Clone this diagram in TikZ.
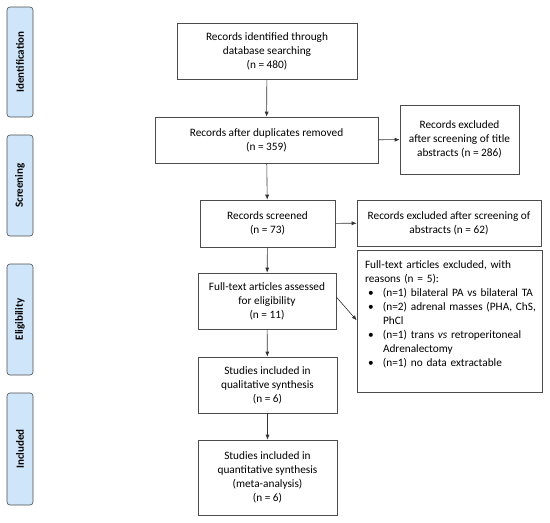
\documentclass[tikz,border=0pt]{standalone}
\usepackage{fontspec}
\setmainfont{Carlito}
\usetikzlibrary{arrows.meta}
\definecolor{phase}{HTML}{CFE6FA}
\tikzset{
  box/.style={draw=black!70, line width=0.6pt, align=center, inner sep=2pt,
    font=\fontsize{11.3}{14}\selectfont},
  phasebox/.style={draw=black!70, fill=phase, rounded corners=3pt, line width=0.6pt,
    minimum height=26pt, rotate=90, font=\bfseries\fontsize{11}{13}\selectfont},
  flow/.style={draw=black!80, line width=0.6pt, -{Latex[length=5pt,width=4pt]}}
}
\newcommand{\bul}{\makebox[15pt][l]{\textbullet}}
\begin{document}
\begin{tikzpicture}[x=1pt, y=-1pt]
    \useasboundingbox (0,0) rectangle (550,523);

    % 1. Phase labels on the left
    \node[phasebox, minimum width=110pt] (ident) at (20,62) {Identification};
    \node[phasebox, minimum width=101pt] (screen) at (20,185.5) {Screening};
    \node[phasebox, minimum width=111pt] (elig) at (20,319.5) {Eligibility};
    \node[phasebox, minimum width=112pt] (incl) at (20,449) {Included};

    % 2. Main column
    \node[box, minimum width=180pt, minimum height=56pt] (found) at (267,51)
        {Records identified through\\ database searching\\ (n = 480)};
    \node[box, minimum width=223pt, minimum height=46pt] (dupl) at (266.5,140)
        {Records after duplicates removed\\ (n = 359)};
    \node[box, minimum width=135pt, minimum height=47pt] (screened) at (267.5,223.5)
        {Records screened\\ (n = 73)};
    \node[box, minimum width=138pt, minimum height=56pt] (fulltext) at (267,301)
        {Full-text articles assessed\\ for eligibility\\ (n = 11)};
    \node[box, minimum width=139pt, minimum height=56pt] (qual) at (267.5,385)
        {Studies included in\\ qualitative synthesis\\ (n = 6)};
    \node[box, minimum width=139pt, minimum height=75pt] (quant) at (267.5,477.5)
        {Studies included in\\ quantitative synthesis\\ (meta-analysis)\\ (n = 6)};

    % 3. Exclusion boxes on the right
    \node[box, minimum width=119pt, minimum height=69pt] (excla) at (459.5,139.5)
        {Records excluded\\ after screening of title\\ abstracts (n = 286)};
    \node[box, minimum width=184pt, minimum height=46pt] (exclb) at (449,223)
        {Records excluded after screening of\\ abstracts (n = 62)};
    \node[box, minimum width=185pt, minimum height=142pt, anchor=north] (exclc) at (449.5,250) {};
    \node[box, draw=none, align=left, text width=177pt, inner sep=0pt, anchor=north west]
        (reasons) at ([xshift=8pt, yshift=-10.5pt]exclc.north west)
        {Full-text articles excluded, with\\
         reasons (n = 5):\\
         \hspace*{3pt}\bul(n=1) bilateral PA vs bilateral TA\\
         \hspace*{3pt}\bul(n=2) adrenal masses (PHA, ChS,\\
         \hspace*{18pt}PhCl\\
         \hspace*{3pt}\bul(n=1) trans \textit{vs} retroperitoneal\\
         \hspace*{18pt}Adrenalectomy\\
         \hspace*{3pt}\bul(n=1) no data extractable};

    % 4. Arrows
    \draw[flow] (found) -- (dupl);
    \draw[flow] (dupl) -- (screened);
    \draw[flow] (screened) -- (fulltext);
    \draw[flow] (fulltext) -- (qual);
    \draw[flow] (qual) -- (quant);
    \draw[flow] (dupl) -- (excla);
    \draw[flow] (screened) -- (exclb);
    \draw[flow] ([yshift=4pt]fulltext.east) -- ([yshift=1pt]exclc.west);
\end{tikzpicture}
\end{document}
